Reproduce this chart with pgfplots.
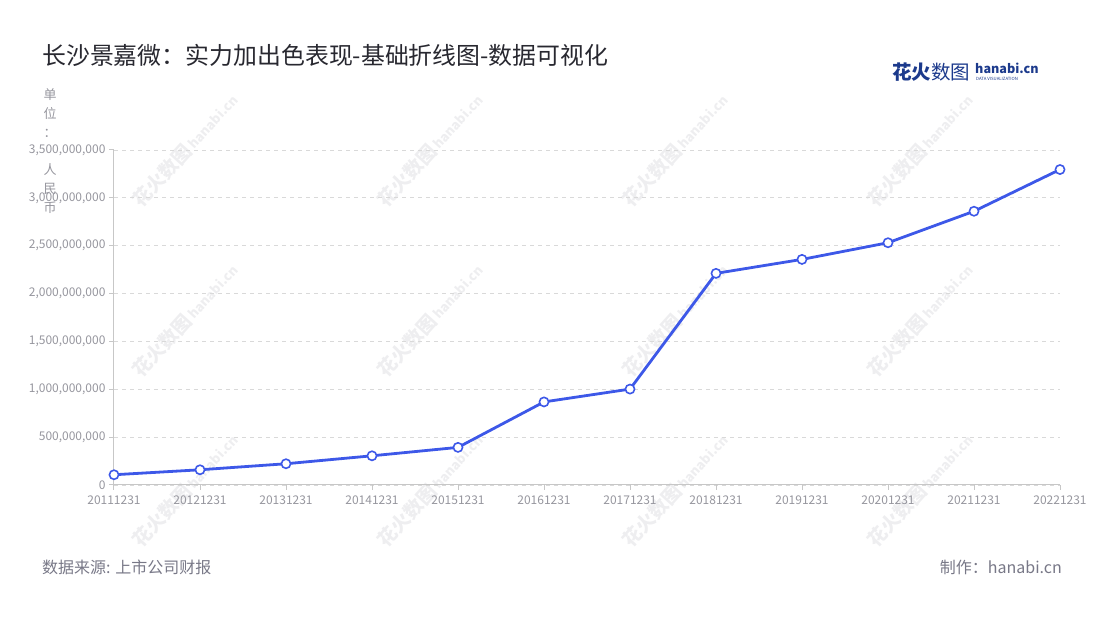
\documentclass[border=0pt]{standalone}
\usepackage{fontspec}
\setmainfont{Noto Sans CJK SC}
\usepackage{pgfplots}
\pgfplotsset{compat=1.18}
\definecolor{serie}{RGB}{61,88,232}
\definecolor{titlec}{RGB}{40,40,48}
\definecolor{tickc}{RGB}{150,150,158}
\definecolor{srcc}{RGB}{120,120,135}
\definecolor{logoc}{RGB}{28,58,140}
\definecolor{wm}{RGB}{238,238,240}
\begin{document}
\begin{tikzpicture}[x=1pt,y=1pt]
\path[use as bounding box] (0,0) rectangle (1100,620);
% watermarks
\foreach \cx in {185,430,675,920}{
  \foreach \cy in {470,300,130}{
    \node[rotate=48,color=wm,font=\fontsize{19}{19}\selectfont\bfseries,inner sep=0] at (\cx,\cy) {花火数图\,{\fontsize{13}{13}\selectfont hanabi.cn}};
  }
}
% title
\node[anchor=west,color=titlec,font=\fontsize{23.9}{24}\selectfont,inner sep=0] at (42,565) {长沙景嘉微：实力加出色表现-基础折线图-数据可视化};
% logo
\node[anchor=west,color=logoc,font=\fontsize{19.5}{19.5}\selectfont,inner sep=0] at (892,548) {{\bfseries 花火}数图};
\node[anchor=west,color=logoc,font=\fontsize{12.6}{12.6}\selectfont\bfseries,inner sep=0] at (975,552) {hanabi.cn};
\node[anchor=west,color=logoc,font=\fontsize{4.3}{4.3}\selectfont,inner sep=0] at (976,541) {DATA VISUALIZATION};
% y unit label (stacked)
\foreach \ch/\yy in {单/525,位/506,：/487,人/450,民/431,币/412}{
  \node[color=tickc,font=\fontsize{13}{13}\selectfont,inner sep=0] at (50,\yy) {\ch};
}
% source
\node[anchor=west,color=srcc,font=\fontsize{16}{16}\selectfont,inner sep=0] at (42,53) {数据来源: 上市公司财报};
\node[anchor=east,color=srcc,font=\fontsize{16}{16}\selectfont,inner sep=0] at (1062,53) {制作：hanabi.cn};
\begin{axis}[
  at={(114pt,135pt)}, anchor=south west,
  scale only axis, width=946pt, height=335pt,
  xmin=0, xmax=11, ymin=0, ymax=3500000000,
  clip=false,
  axis x line*=bottom, axis y line*=left,
  axis line style={-,color=black!22,line width=1pt},
  xtick={0,1,2,3,4,5,6,7,8,9,10,11},
  xticklabels={20111231,20121231,20131231,20141231,20151231,20161231,20171231,20181231,20191231,20201231,20211231,20221231},
  ytick={0,500000000,1000000000,1500000000,2000000000,2500000000,3000000000,3500000000},
  scaled y ticks=false,
  yticklabel style={/pgf/number format/.cd, fixed, 1000 sep={,}, precision=0, assume math mode=true},
  xticklabel style={/pgf/number format/assume math mode=true, yshift=-2pt},
  tick label style={color=tickc,font=\fontsize{12}{12}\selectfont},
  tick align=outside, major tick length=5pt,
  tick style={color=black!22,line width=1pt},
  ymajorgrids, grid style={color=black!15,line width=0.8pt,dash pattern=on 4pt off 4pt},
]
\addplot[serie, line width=2.8pt, mark=*, mark size=4.6pt,
  mark options={fill=white,draw=serie,line width=1.6pt}] coordinates {
 (0,107000000) (1,159000000) (2,222000000) (3,305000000) (4,393000000)
 (5,868000000) (6,1002000000) (7,2211000000) (8,2357000000) (9,2531000000)
 (10,2860000000) (11,3296000000)
};
\end{axis}
\end{tikzpicture}
\end{document}
